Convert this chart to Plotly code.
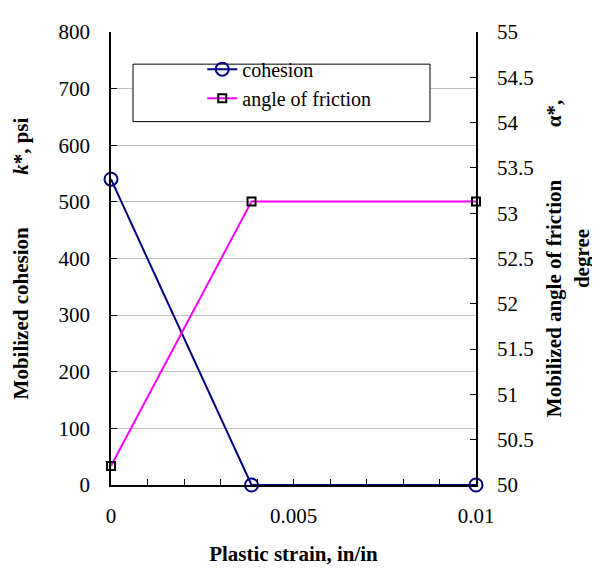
import plotly.graph_objects as go

strain = [0, 0.00385, 0.01]
cohesion = [540, 0, 0]
friction = [50.21, 53.13, 53.13]

FONT = "Liberation Serif, Times New Roman, serif"

fig = go.Figure()
fig.add_trace(go.Scatter(
    x=strain, y=cohesion, name="cohesion", mode="lines+markers",
    line=dict(color="#000080", width=2),
    marker=dict(symbol="circle-open", size=13, color="#000080", line=dict(width=2)),
    cliponaxis=False,
))
fig.add_trace(go.Scatter(
    x=strain, y=friction, name="angle of friction", mode="lines+markers", yaxis="y2",
    line=dict(color="#FF00FF", width=2),
    marker=dict(symbol="square-open", size=8, color="black", line=dict(width=2)),
    cliponaxis=False,
))

# page body adds ~8px offset; compensate in margins
L, T = 103, 12
PW, PH = 365, 465
sp = "\u00a0" * 10
fig.update_layout(
    width=600, height=571,
    margin=dict(l=L, r=600 - L - PW, t=T, b=571 - T - PH),
    paper_bgcolor="white", plot_bgcolor="white",
    font=dict(family=FONT, size=21, color="black"),
    showlegend=True,
    legend=dict(x=0.25, y=0.886, xanchor="left", yanchor="middle",
                bgcolor="rgba(0,0,0,0)", borderwidth=0,
                font=dict(family=FONT, size=20), tracegroupgap=0, itemwidth=30),
    xaxis=dict(
        range=[0, 0.01], dtick=0.005, tick0=0,
        showline=True, linecolor="black", linewidth=1.5,
        ticks="inside", ticklen=6, tickcolor="black",
        minor=dict(dtick=0.001, ticks="inside", ticklen=6, tickcolor="black", showgrid=False),
        showgrid=False, zeroline=False,
        ticklabelstandoff=11,
        title=dict(text="<b>Plastic strain, in/in</b>", font=dict(family=FONT, size=21), standoff=19),
    ),
    yaxis=dict(
        range=[0, 800], dtick=100,
        showline=True, linecolor="black", linewidth=1.5,
        ticks="inside", ticklen=6, tickcolor="black",
        showgrid=True, gridcolor="#c0c0c0", gridwidth=1, zeroline=False,
        ticklabelstandoff=15,
        title=dict(text="<b>Mobilized cohesion</b>" + sp + "<b><i>k</i>*, psi</b>",
                   font=dict(family=FONT, size=21), standoff=24),
    ),
    yaxis2=dict(
        range=[50, 55], dtick=0.5, overlaying="y", side="right",
        showline=True, linecolor="black", linewidth=1.5,
        ticks="inside", ticklen=6, tickcolor="black",
        showgrid=False, zeroline=False,
        ticklabelstandoff=15,
        title=dict(text="<b>Mobilized angle of friction" + sp + "α*,</b><br><b>degree</b>",
                   font=dict(family=FONT, size=21), standoff=14),
    ),
    shapes=[dict(type="rect", xref="paper", yref="paper",
                 x0=(133 - 111) / 365, x1=(430 - 111) / 365,
                 y0=(485 - 112) / 465, y1=(485 - 53) / 465,
                 line=dict(color="black", width=1), fillcolor="white", layer="above")],
)

fig.write_html("out.html")
